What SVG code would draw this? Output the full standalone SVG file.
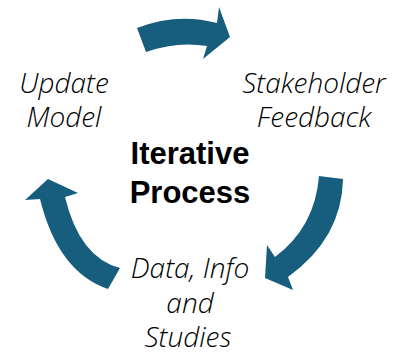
<svg xmlns="http://www.w3.org/2000/svg" width="393" height="354" viewBox="0 0 393 354">
<style>
.lbl{font-family:"Open Sans","Noto Sans",sans-serif;font-style:italic;font-weight:300;font-size:28px;fill:#000;text-anchor:middle}
.ttl{font-family:"Liberation Sans",Arial,sans-serif;font-weight:bold;font-size:31px;fill:#000;text-anchor:middle}
.arr{fill:#175E7E}
</style>
<rect width="393" height="354" fill="#fff"/>
<g id="connectors">
<path class="arr" d="M137,28 Q177,12.5 217,23 L219,7 L230,37 L203,59 L207,46 Q177,41 146,52 Z"/>
<path class="arr" d="M319,176 L343,179 Q342,238 288,277 L293,290 L265,278 L267,245 L275,257 Q315,227 319,176 Z"/>
<path class="arr" d="M48,179 L78,193 L65,197 Q79.5,257.5 120,268 L108,289 Q58,272 40,199 L25,200 Z"/>
</g>
<g id="update-model">
<text class="lbl" x="64" y="93">Update</text>
<text class="lbl" x="64" y="127">Model</text>
</g>
<g id="stakeholder-feedback">
<text class="lbl" x="314" y="93">Stakeholder</text>
<text class="lbl" x="314" y="127">Feedback</text>
</g>
<g id="iterative-process">
<text class="ttl" x="190" y="164">Iterative</text>
<text class="ttl" x="190" y="203">Process</text>
</g>
<g id="data-info-studies">
<text class="lbl" x="190" y="278">Data, Info</text>
<text class="lbl" x="190" y="313">and</text>
<text class="lbl" x="188" y="347">Studies</text>
</g>
</svg>
